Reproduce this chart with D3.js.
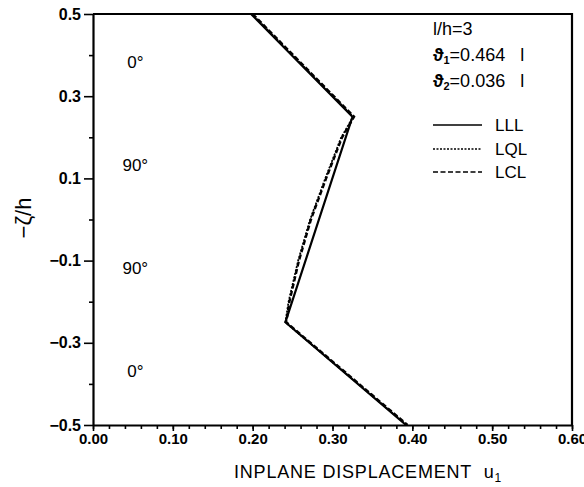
<!DOCTYPE html>
<html>
<head>
<meta charset="utf-8">
<script src="https://cdn.jsdelivr.net/npm/d3@7"></script>
<style>
  html, body { margin: 0; padding: 0; background: #fff; }
  svg { display: block; font-family: "Liberation Sans", Arial, Helvetica, sans-serif; }
</style>
</head>
<body>
<svg id="chart" width="584" height="487"></svg>
<script>
// ---- data ----
const xMajorTicks = [0.00, 0.10, 0.20, 0.30, 0.40, 0.50, 0.60];
const yMajorTicks = [0.5, 0.3, 0.1, -0.1, -0.3, -0.5];
const yMinorTicks = [0.4, 0.2, 0.0, -0.2, -0.4];

const zetaLLL = [0.5, 0.25, -0.25, -0.5];
const uLLL    = [0.198, 0.325, 0.241, 0.392];

const zetaLQL = [0.5, 0.25, 0.2, 0.1, 0.0, -0.1, -0.2, -0.25, -0.5];
const uLQL    = [0.199, 0.326, 0.311, 0.291, 0.272, 0.257, 0.245, 0.241, 0.393];

const zetaLCL = [0.5, 0.25, 0.2, 0.1, 0.0, -0.1, -0.2, -0.25, -0.5];
const uLCL    = [0.200, 0.327, 0.312, 0.292, 0.273, 0.258, 0.246, 0.242, 0.394];

const layerNames = ["0°", "90°", "90°", "0°"];
const layerZeta  = [0.375, 0.125, -0.125, -0.375];

const seriesNames = ["LLL", "LQL", "LCL"];

// ---- layout ----
const svg = d3.select("#chart");
const x = d3.scaleLinear().domain([0, 0.6]).range([93, 572]);
const y = d3.scaleLinear().domain([-0.5, 0.5]).range([425, 14]);

// frame (top & right)
svg.append("path")
  .attr("d", `M${x(0)},${y(0.5)}H${x(0.6)}V${y(-0.5)}`)
  .attr("fill", "none").attr("stroke", "#000").attr("stroke-width", 2.2);

// x axis
const xMinor = d3.range(0, 0.6001, 0.02);
svg.append("g").attr("transform", `translate(0,${y(-0.5)})`)
  .call(d3.axisBottom(x).tickValues(xMinor).tickSize(4).tickFormat(""))
  .call(g => g.select(".domain").remove())
  .selectAll("line").attr("stroke-width", 1.6);
const gx = svg.append("g").attr("transform", `translate(0,${y(-0.5)})`)
  .call(d3.axisBottom(x).tickValues(xMajorTicks).tickSize(6).tickSizeOuter(0).tickPadding(2).tickFormat(d3.format(".2f")));
gx.select(".domain").attr("stroke-width", 2.2);
gx.selectAll("line").attr("stroke-width", 1.6);
gx.selectAll("text").attr("font-size", 15).attr("font-weight", "bold").attr("fill", "#000")
  .attr("font-family", "Liberation Sans, Arial, sans-serif");

// y axis
svg.append("g").attr("transform", `translate(${x(0)},0)`)
  .call(d3.axisLeft(y).tickValues(yMinorTicks).tickSize(4).tickFormat(""))
  .call(g => g.select(".domain").remove())
  .selectAll("line").attr("stroke-width", 1.6);
const gy = svg.append("g").attr("transform", `translate(${x(0)},0)`)
  .call(d3.axisLeft(y).tickValues(yMajorTicks).tickSize(9).tickSizeOuter(0).tickPadding(3).tickFormat(d3.format(".1f")));
gy.select(".domain").attr("stroke-width", 2.2);
gy.selectAll("line").attr("stroke-width", 1.6);
gy.selectAll("text").attr("font-size", 16).attr("font-weight", "bold").attr("fill", "#000")
  .attr("font-family", "Liberation Sans, Arial, sans-serif");

// axis titles
const xt = svg.append("text").attr("x", 368).attr("y", 478).attr("text-anchor", "middle")
  .attr("font-size", 18).attr("letter-spacing", 0.8);
xt.append("tspan").text("INPLANE DISPLACEMENT\u00a0\u00a0u");
xt.append("tspan").attr("font-size", 12).attr("dy", 4).text("1");

svg.append("text").attr("transform", `translate(31,${218}) rotate(-90)`)
  .attr("text-anchor", "middle").attr("font-size", 22).text("−ζ/h");

// lines
const mk = (us, zs) => us.map((u, i) => [u, zs[i]]);
const line = d3.line().x(d => x(d[0])).y(d => y(d[1]));
const series = [
  { pts: mk(uLLL, zetaLLL), dash: null, w: 2.2 },
  { pts: mk(uLQL, zetaLQL), dash: "2,1.5", w: 1.8 },
  { pts: mk(uLCL, zetaLCL), dash: "5,2.5", w: 2.4 }
];
svg.append("g").selectAll("path").data(series).join("path")
  .attr("d", d => line(d.pts))
  .attr("fill", "none").attr("stroke", "#000")
  .attr("stroke-width", d => d.w)
  .attr("stroke-dasharray", d => d.dash);

// layer labels
svg.append("g").selectAll("text").data(layerNames).join("text")
  .attr("x", x(0.053)).attr("y", (d, i) => y(layerZeta[i]) + 3)
  .attr("text-anchor", "middle").attr("font-size", 17).text(d => d);

// legend / annotation
const ann = svg.append("g").attr("font-size", 18);
ann.append("text").attr("x", 433).attr("y", 35).text("l/h=3");
const t1 = ann.append("text").attr("x", 433).attr("y", 61);
t1.append("tspan").attr("font-weight", "bold").text("ϑ");
t1.append("tspan").attr("font-size", 11).attr("dy", 3).attr("font-weight", "bold").text("1");
t1.append("tspan").attr("dy", -3).text("=0.464\u00a0\u00a0\u00a0l");
const t2 = ann.append("text").attr("x", 433).attr("y", 87);
t2.append("tspan").attr("font-weight", "bold").text("ϑ");
t2.append("tspan").attr("font-size", 11).attr("dy", 3).attr("font-weight", "bold").text("2");
t2.append("tspan").attr("dy", -3).text("=0.036\u00a0\u00a0\u00a0l");

const legY = [125, 149, 172];
const leg = svg.append("g");
leg.selectAll("line").data(series).join("line")
  .attr("x1", 433).attr("x2", 482)
  .attr("y1", (d, i) => legY[i]).attr("y2", (d, i) => legY[i])
  .attr("stroke", "#000").attr("stroke-width", d => Math.min(d.w, 1.6))
  .attr("stroke-dasharray", d => d.dash);
leg.selectAll("text").data(seriesNames).join("text")
  .attr("x", 495).attr("y", (d, i) => legY[i] + 6)
  .attr("font-size", 17).text(d => d);
</script>
</body>
</html>
